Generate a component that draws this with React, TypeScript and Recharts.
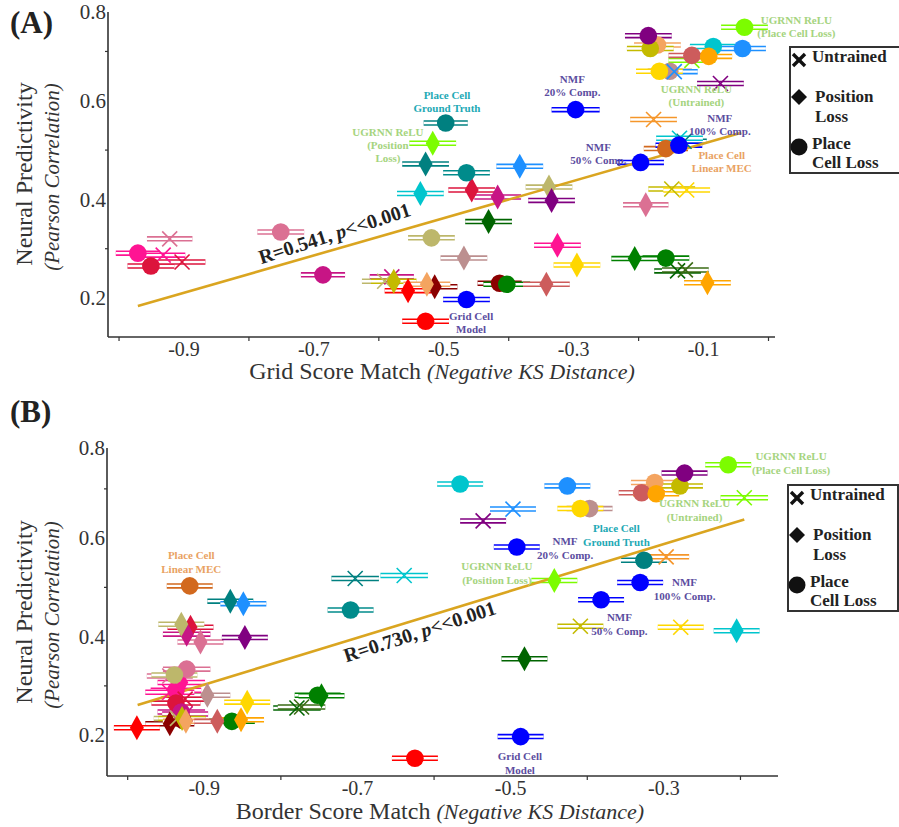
import React from 'react';
import { ScatterChart, Scatter, XAxis, YAxis, ErrorBar, ReferenceLine, ReferenceDot } from 'recharts';

const FONT = '"Liberation Serif", "DejaVu Serif", serif';

// one entry per model (same order in every array)
const modelColors = [
  '#BC8F8F', '#BC8F8F', '#8B0000', '#8B0000', '#FF1493', '#FF1493', '#FF1493', '#DC143C', '#DC143C', '#DC143C',
  '#DB7093', '#DB7093', '#DB7093', '#C71585', '#C71585', '#C71585', '#BDB76B', '#BDB76B', '#BDB76B', '#008080',
  '#008B8B', '#008080', '#008080', '#00C5CD', '#00C5CD', '#00C5CD', '#1E90FF', '#1E90FF', '#1E90FF', '#7CFC00',
  '#7CFC00', '#7CFC00', '#F4A460', '#C4BA00', '#800080', '#800080', '#800080', '#C4BA00', '#C4BA00', '#FFD700',
  '#FFD700', '#FFD700', '#006400', '#3A6B14', '#006400', '#008000', '#008000', '#008000', '#FF0000', '#FF0000',
  '#F4A460', '#CD5C5C', '#CD5C5C', '#FFA500', '#FFA500', '#F5962A', '#D2691E', '#0000FF', '#0000FF', '#0000FF',
  '#0000FF',
];
const modelShapes = [
  'circle', 'diamond', 'circle', 'diamond', 'circle', 'cross', 'diamond', 'circle', 'cross', 'diamond',
  'circle', 'cross', 'diamond', 'circle', 'cross', 'diamond', 'circle', 'cross', 'diamond', 'circle',
  'circle', 'cross', 'diamond', 'circle', 'cross', 'diamond', 'circle', 'cross', 'diamond', 'circle',
  'cross', 'diamond', 'circle', 'circle', 'circle', 'cross', 'diamond', 'cross', 'diamond', 'circle',
  'cross', 'diamond', 'cross', 'cross', 'diamond', 'circle', 'diamond', 'circle', 'circle', 'diamond',
  'diamond', 'circle', 'diamond', 'circle', 'diamond', 'cross', 'circle', 'circle', 'circle', 'circle',
  'circle',
];
// neural predictivity (same in both panels)
const predictivity = [
  0.660, 0.281, 0.230, 0.223, 0.291, 0.287, 0.307, 0.265, 0.273, 0.419,
  0.334, 0.320, 0.389, 0.247, 0.243, 0.405, 0.322, 0.234, 0.425, 0.555,
  0.454, 0.518, 0.472, 0.710, 0.524, 0.412, 0.706, 0.659, 0.467, 0.749,
  0.682, 0.514, 0.713, 0.706, 0.732, 0.635, 0.398, 0.421, 0.234, 0.660,
  0.419, 0.267, 0.255, 0.257, 0.355, 0.281, 0.280, 0.228, 0.153, 0.215,
  0.228, 0.692, 0.228, 0.690, 0.231, 0.562, 0.503, 0.582, 0.510, 0.475,
  0.197,
];
// grid score match (negative KS distance)
const gridMatch = [
  -0.152, -0.469, -0.414, -0.514, -0.971, -0.932, -0.325, -0.951, -0.903, -0.457,
  -0.751, -0.922, -0.189, -0.686, -0.580, -0.417, -0.519, -0.591, -0.338, -0.497,
  -0.465, -0.130, -0.528, -0.085, -0.137, -0.536, -0.040, -0.145, -0.383, -0.037,
  -0.118, -0.517, -0.171, -0.182, -0.185, -0.074, -0.334, -0.149, -0.577, -0.168,
  -0.126, -0.295, -0.140, -0.128, -0.431, -0.158, -0.206, -0.403, -0.528, -0.555,
  -0.526, -0.118, -0.342, -0.092, -0.094, -0.177, -0.158, -0.297, -0.138, -0.197,
  -0.465,
];
const gridErr = [
  0.034, 0.036, 0.034, 0.035, 0.034, 0.034, 0.036, 0.036, 0.036, 0.036,
  0.036, 0.035, 0.035, 0.034, 0.034, 0.036, 0.036, 0.035, 0.036, 0.034,
  0.036, 0.035, 0.036, 0.036, 0.036, 0.036, 0.036, 0.036, 0.036, 0.036,
  0.036, 0.036, 0.036, 0.036, 0.036, 0.036, 0.036, 0.036, 0.035, 0.036,
  0.036, 0.036, 0.036, 0.036, 0.036, 0.036, 0.036, 0.036, 0.036, 0.036,
  0.036, 0.036, 0.036, 0.036, 0.036, 0.036, 0.034, 0.037, 0.036, 0.036,
  0.036,
];
// border score match (negative KS distance)
const borderMatch = [
  -0.397, -0.896, -0.928, -0.945, -0.937, -0.945, -0.930, -0.937, -0.925, -0.918,
  -0.923, -0.945, -0.905, -0.930, -0.925, -0.923, -0.939, -0.935, -0.930, -0.326,
  -0.709, -0.703, -0.866, -0.566, -0.639, -0.205, -0.426, -0.497, -0.849, -0.216,
  -0.195, -0.443, -0.312, -0.279, -0.273, -0.536, -0.847, -0.409, -0.929, -0.409,
  -0.278, -0.844, -0.779, -0.773, -0.482, -0.752, -0.747, -0.864, -0.625, -0.988,
  -0.924, -0.329, -0.883, -0.310, -0.852, -0.297, -0.919, -0.492, -0.331, -0.382,
  -0.487,
];
const borderErr = [
  0.030, 0.030, 0.030, 0.032, 0.033, 0.032, 0.031, 0.032, 0.031, 0.030,
  0.031, 0.030, 0.030, 0.031, 0.030, 0.031, 0.030, 0.031, 0.030, 0.030,
  0.030, 0.031, 0.030, 0.030, 0.031, 0.030, 0.030, 0.030, 0.030, 0.030,
  0.031, 0.030, 0.031, 0.030, 0.030, 0.030, 0.030, 0.030, 0.031, 0.030,
  0.030, 0.030, 0.031, 0.031, 0.030, 0.030, 0.030, 0.030, 0.030, 0.030,
  0.030, 0.030, 0.030, 0.030, 0.030, 0.030, 0.030, 0.030, 0.030, 0.030,
  0.030,
];

const xTicksA = [-1, -0.9, -0.8, -0.7, -0.6, -0.5, -0.4, -0.3, -0.2, -0.1, 0];
const xTicksB = [-1, -0.9, -0.8, -0.7, -0.6, -0.5, -0.4, -0.3, -0.2];
const xTickLabels = ['-0.9', '-0.7', '-0.5', '-0.3', '-0.1'];
const yTicksA = [0.2, 0.3, 0.4, 0.5, 0.6, 0.7, 0.78];
const yTicksB = [0.2, 0.3, 0.4, 0.5, 0.6, 0.7, 0.783];
const yTickLabels = ['0.2', '0.4', '0.6', '0.8'];

const fitA = { x: [-0.971, -0.042], y: [0.184, 0.535] };
const fitB = { x: [-0.987, -0.195], y: [0.261, 0.638] };

const GREEN_TXT = '#A5D47E';
const PURPLE_TXT = '#5B4DA0';
const TEAL_TXT = '#22A9B5';
const ORANGE_TXT = '#E9A262';

const notesA = [
  { lines: ['UGRNN ReLU', '(Place Cell Loss)'], color: GREEN_TXT, x: 0.043, y: 0.764 },
  { lines: ['NMF', '20% Comp.'], color: PURPLE_TXT, x: -0.302, y: 0.644 },
  { lines: ['UGRNN ReLU', '(Untrained)'], color: GREEN_TXT, x: -0.111, y: 0.624 },
  { lines: ['NMF', '100% Comp.'], color: PURPLE_TXT, x: -0.075, y: 0.565 },
  { lines: ['NMF', '50% Comp.'], color: PURPLE_TXT, x: -0.262, y: 0.506 },
  { lines: ['Place Cell', 'Linear MEC'], color: ORANGE_TXT, x: -0.072, y: 0.49 },
  { lines: ['Place Cell', 'Ground Truth'], color: TEAL_TXT, x: -0.495, y: 0.612 },
  { lines: ['UGRNN ReLU', '(Position', 'Loss)'], color: GREEN_TXT, x: -0.586, y: 0.537 },
  { lines: ['Grid Cell', 'Model'], color: PURPLE_TXT, x: -0.458, y: 0.163 },
];
const notesB = [
  { lines: ['UGRNN ReLU', '(Place Cell Loss)'], color: GREEN_TXT, x: -0.134, y: 0.766 },
  { lines: ['UGRNN ReLU', '(Untrained)'], color: GREEN_TXT, x: -0.26, y: 0.671 },
  { lines: ['Place Cell', 'Ground Truth'], color: TEAL_TXT, x: -0.362, y: 0.62 },
  { lines: ['NMF', '20% Comp.'], color: PURPLE_TXT, x: -0.429, y: 0.594 },
  { lines: ['UGRNN ReLU', '(Position Loss)'], color: GREEN_TXT, x: -0.518, y: 0.543 },
  { lines: ['NMF', '100% Comp.'], color: PURPLE_TXT, x: -0.273, y: 0.51 },
  { lines: ['NMF', '50% Comp.'], color: PURPLE_TXT, x: -0.358, y: 0.439 },
  { lines: ['Grid Cell', 'Model'], color: PURPLE_TXT, x: -0.488, y: 0.157 },
  { lines: ['Place Cell', 'Linear MEC'], color: ORANGE_TXT, x: -0.917, y: 0.565 },
];

const legendLabels = [['Untrained'], ['Position', 'Loss'], ['Place', 'Cell Loss']];

function Marker({ cx, cy, shape, color }: any) {
  if (shape === 'cross') {
    const s = 7.5;
    return (
      <g stroke={color} strokeWidth={1.6}>
        <line x1={cx - s} y1={cy - s} x2={cx + s} y2={cy + s} />
        <line x1={cx - s} y1={cy + s} x2={cx + s} y2={cy - s} />
      </g>
    );
  }
  if (shape === 'diamond') {
    return <polygon points={`${cx},${cy - 12.5} ${cx + 7} ${cy} ${cx},${cy + 12.5} ${cx - 7},${cy}`} fill={color} />;
  }
  return <circle cx={cx} cy={cy} r={8.8} fill={color} />;
}

const XTick = ({ x, y, payload }: any) => {
  const label = payload.value.toFixed(1);
  if (xTickLabels.includes(label)) {
    return <text x={x} y={y + 19} textAnchor="middle" fontSize={20} fill="#333" fontFamily={FONT}>{label}</text>;
  }
  return <line x1={x} y1={y} x2={x} y2={y + 4} stroke="#333" strokeWidth={1.2} />;
};

const YTick = ({ x, y, payload }: any) => {
  const label = payload.value.toFixed(1);
  if (yTickLabels.includes(label)) {
    return <text x={x - 2} y={y} dy="0.35em" textAnchor="end" fontSize={21} fill="#333" fontFamily={FONT}>{label}</text>;
  }
  return <line x1={x - 3} y1={y} x2={x} y2={y} stroke="#333" strokeWidth={1.2} />;
};

function Panel({ xs, errs, xTicks, yTicks, xDomain, yDomain, fit, notes, rText, rPos, lineH, margin, yWidth }: any) {
  const rows = xs.map((x: number, i: number) => ({
    x, y: predictivity[i], err: errs[i], color: modelColors[i], shape: modelShapes[i],
  }));
  return (
    <ScatterChart width={899} height={margin.h} margin={{ top: margin.top, right: margin.right, bottom: margin.bottom, left: 0 }}>
      <XAxis type="number" dataKey="x" domain={xDomain} ticks={xTicks} interval={0} allowDataOverflow
        height={30} tickSize={0} tickMargin={0} tick={<XTick />} axisLine={{ stroke: '#333', strokeWidth: 1.6 }} />
      <YAxis type="number" dataKey="y" domain={yDomain} ticks={yTicks} interval={0} allowDataOverflow
        width={yWidth} tickSize={0} tickMargin={0} tick={<YTick />} axisLine={{ stroke: '#333', strokeWidth: 1.6 }} />
      {rows.map((r: any, i: number) => (
        <Scatter key={'e' + i} data={[r]} isAnimationActive={false} shape={() => <g />}>
          <ErrorBar dataKey="err" direction="x" width={0} stroke={r.color} strokeWidth={5.5} isAnimationActive={false} />
          <ErrorBar dataKey="err" direction="x" width={0} stroke="#fff" strokeWidth={2.4} isAnimationActive={false} />
        </Scatter>
      ))}
      <Scatter data={rows} isAnimationActive={false}
        shape={(p: any) => <Marker cx={p.cx} cy={p.cy} shape={p.payload.shape} color={p.payload.color} />} />
      <ReferenceLine segment={[{ x: fit.x[0], y: fit.y[0] }, { x: fit.x[1], y: fit.y[1] }]}
        stroke="#DAA520" strokeWidth={2.6} ifOverflow="visible" />
      <ReferenceDot x={rPos[0]} y={rPos[1]} r={0} ifOverflow="visible"
        shape={(p: any) => (
          <text x={p.cx} y={p.cy} textAnchor="middle" fontSize={20} fontWeight="bold" fill="#222" fontFamily={FONT}
            transform={`rotate(-18 ${p.cx} ${p.cy})`}>
            {rText[0]}<tspan fontStyle="italic">p</tspan>{rText[1]}
          </text>
        )} />
      {notes.map((n: any, i: number) => (
        <ReferenceDot key={'n' + i} x={n.x} y={n.y} r={0} ifOverflow="visible"
          shape={(p: any) => (
            <text textAnchor="middle" fontSize={11} fontWeight="bold" fill={n.color} fontFamily={FONT}>
              {n.lines.map((l: string, j: number) => (
                <tspan key={j} x={p.cx} y={p.cy + j * lineH} dy="0.35em">{l}</tspan>
              ))}
            </text>
          )} />
      ))}
    </ScatterChart>
  );
}

function LegendBox({ left, top }: any) {
  return (
    <g transform={`translate(${left},${top})`} fontFamily={FONT} fontWeight="bold" fontSize={17} fill="#222">
      <rect x={0} y={0} width={110} height={126} fill="#fff" stroke="#333" strokeWidth={2} />
      <g stroke="#111" strokeWidth={3.4}>
        <line x1={3} y1={7} x2={15} y2={19} />
        <line x1={3} y1={19} x2={15} y2={7} />
      </g>
      <text x={22} y={15}>{legendLabels[0][0]}</text>
      <polygon points="9,42 17,50 9,58 1,50" fill="#111" />
      <text x={25} y={55}>{legendLabels[1][0]}</text>
      <text x={25} y={75}>{legendLabels[1][1]}</text>
      <circle cx={9} cy={100} r={8.5} fill="#111" />
      <text x={22} y={102}>{legendLabels[2][0]}</text>
      <text x={22} y={121}>{legendLabels[2][1]}</text>
    </g>
  );
}

function AxisTitles({ dy, xMain, xCenter }: any) {
  return (
    <g fontFamily={FONT} fill="#333">
      <text x={xCenter} y={379 + dy.x} textAnchor="middle" fontSize={24}>
        {xMain}<tspan fontStyle="italic" fontSize={22}>(Negative KS Distance)</tspan>
      </text>
      <text transform={`translate(32,${174 + dy.y}) rotate(-90)`} textAnchor="middle" fontSize={24}>Neural Predictivity</text>
      <text transform={`translate(59,${177 + dy.y}) rotate(-90)`} textAnchor="middle" fontSize={21} fontStyle="italic">(Pearson Correlation)</text>
    </g>
  );
}

export default function App() {
  return (
    <div style={{ position: 'absolute', left: 0, top: 0, width: 899, height: 827, background: '#fff', fontFamily: FONT }}>
      <div style={{ position: 'absolute', left: 0, top: 0 }}>
        <Panel xs={gridMatch} errs={gridErr} xTicks={xTicksA} yTicks={yTicksA} xDomain={[-1.017, 0.01]} yDomain={[0.121, 0.78]}
          fit={fitA} notes={notesA} rText={['R=0.541, ', '<<0.001']} rPos={[-0.665, 0.318]} lineH={13}
          margin={{ h: 410, top: 12, right: 124, bottom: 43 }} yWidth={108} />
      </div>
      <div style={{ position: 'absolute', left: 0, top: 420 }}>
        <Panel xs={borderMatch} errs={borderErr} xTicks={xTicksB} yTicks={yTicksB} xDomain={[-1.027, -0.151]} yDomain={[0.117, 0.783]}
          fit={fitB} notes={notesB} rText={['R=0.730, ', '<<0.001']} rPos={[-0.616, 0.397]} lineH={14}
          margin={{ h: 407, top: 28, right: 121, bottom: 21 }} yWidth={107} />
      </div>
      <svg width={899} height={827} style={{ position: 'absolute', left: 0, top: 0, pointerEvents: 'none' }}>
        <text x={10} y={33} fontFamily={FONT} fontSize={31} fontWeight="bold" fill="#222">(A)</text>
        <text x={10} y={422} fontFamily={FONT} fontSize={31} fontWeight="bold" fill="#222">(B)</text>
        <AxisTitles dy={{ x: 0, y: 0 }} xMain="Grid Score Match " xCenter={442} />
        <AxisTitles dy={{ x: 440, y: 438 }} xMain="Border Score Match " xCenter={440} />
        <LegendBox left={790} top={47} />
        <LegendBox left={788} top={485} />
      </svg>
    </div>
  );
}
